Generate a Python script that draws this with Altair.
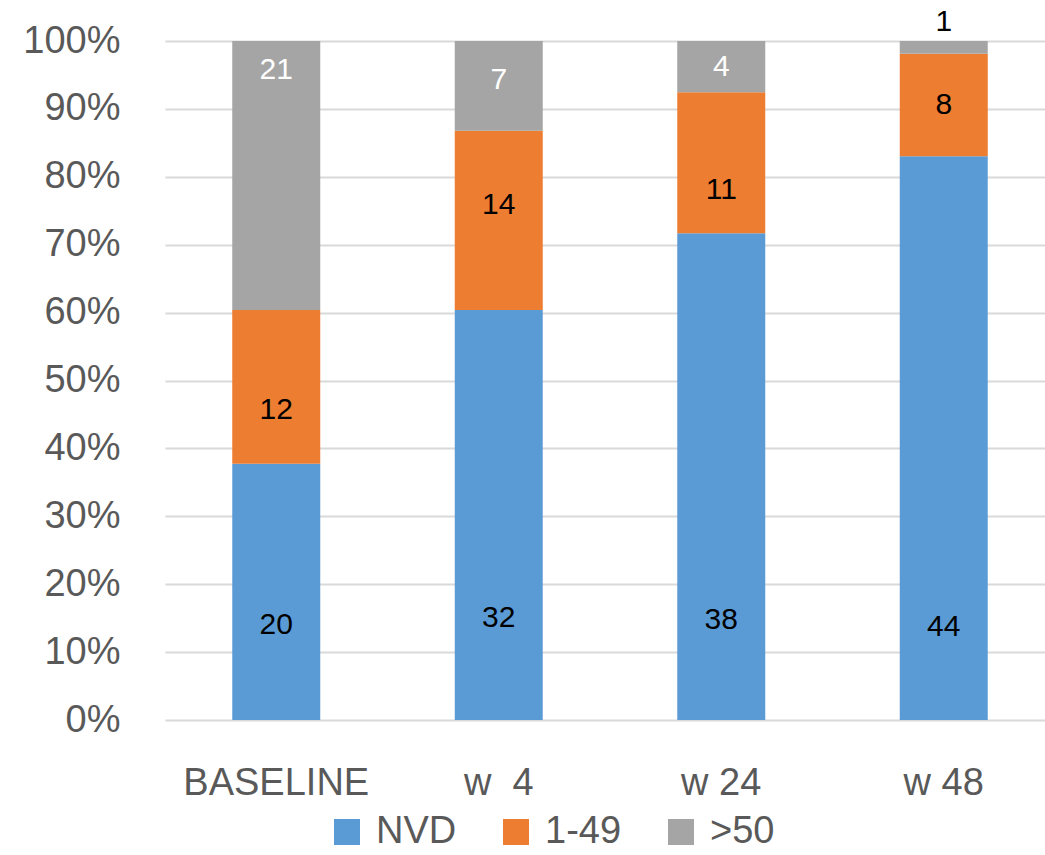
import altair as alt
import pandas as pd

# Visit groups and the viral-load categories stacked in each bar
visits = ["BASELINE", "w\u00a0\u00a04", "w 24", "w 48"]
categories = ["NVD", "1-49", ">50"]

# Patient counts per visit, one list per category
nvd = [20, 32, 38, 44]
low = [12, 14, 11, 8]
high = [21, 7, 4, 1]

# Where each count label sits along the 0-1 axis (per visit, per category)
label_at_nvd = [0.140, 0.150, 0.147, 0.137]
label_at_low = [0.457, 0.758, 0.781, 0.906]
label_at_high = [0.957, 0.943, 0.962, 1.028]

colors = ["#5B9BD5", "#ED7D31", "#A5A5A5"]

rows = []
series = [nvd, low, high]
label_pos = [label_at_nvd, label_at_low, label_at_high]
for i, v in enumerate(visits):
    total = sum(s[i] for s in series)
    cum = 0.0
    for k, cat in enumerate(categories):
        frac = series[k][i] / total
        rows.append({
            "visit": v,
            "cat": cat,
            "order": k,
            "count": series[k][i],
            "y0": cum,
            "y1": cum + frac,
            "ylab": label_pos[k][i],
            "white": (k == 2 and label_pos[k][i] <= 1.0),
        })
        cum += frac
df = pd.DataFrame(rows)

FONT = "Liberation Sans"
TEXT = "#595959"
FS = 38

x_enc = alt.X(
    "visit:N", sort=visits, title=None,
    scale=alt.Scale(paddingInner=0.6, paddingOuter=0.3, range=[0, 890]),
    axis=alt.Axis(labelAngle=0, labelFontSize=FS, labelColor=TEXT, labelLimit=0,
                  labelFont=FONT, labelPadding=44, ticks=False, domain=False),
)

bars = alt.Chart(df).mark_bar(size=88).encode(
    x=x_enc,
    y=alt.Y("y0:Q", scale=alt.Scale(domain=[0, 1], nice=False), title=None,
            axis=alt.Axis(format=".0%", values=[i / 10 for i in range(11)],
                          labelFontSize=FS, labelColor=TEXT, labelFont=FONT,
                          labelPadding=45, ticks=False, domain=False,
                          gridColor="#D9D9D9", gridWidth=2)),
    y2="y1:Q",
    color=alt.Color("cat:N", sort=categories,
                    scale=alt.Scale(domain=categories, range=colors),
                    legend=alt.Legend(title=None, orient="none", direction="horizontal",
                                      legendX=163, legendY=772, padding=0,
                                      symbolType="square", symbolSize=676,
                                      symbolStrokeWidth=0,
                                      labelFontSize=FS, labelColor=TEXT,
                                      labelFont=FONT, columnPadding=40,
                                      labelOffset=10)),
)

labels = alt.Chart(df).mark_text(fontSize=30, font=FONT, baseline="middle").encode(
    x=alt.X("visit:N", sort=visits),
    y=alt.Y("ylab:Q"),
    text="count:N",
    color=alt.condition("datum.white", alt.value("white"), alt.value("black")),
)

chart = (bars + labels).properties(
    width=880, height=679,
    padding={"left": 165, "top": 41, "right": 0, "bottom": 135},
    autosize=alt.AutoSizeParams(type="none"),
).configure_view(stroke=None).configure_axisX(grid=False)

chart.save("out.html", embed_options={"renderer": "svg", "actions": False})
